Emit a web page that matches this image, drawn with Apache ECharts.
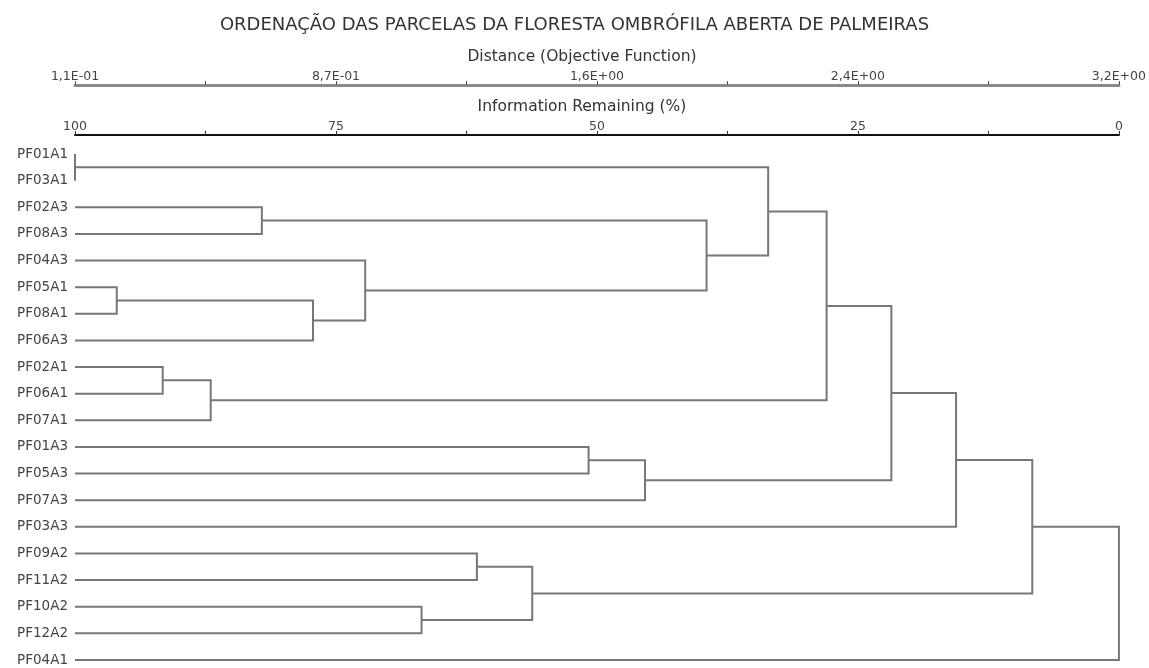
<!DOCTYPE html>
<html>
<head>
<meta charset="utf-8">
<script src="https://cdn.jsdelivr.net/npm/echarts@6/dist/echarts.min.js"></script>
<style>
html,body{margin:0;padding:0;background:#fff;}
#chart{width:1149px;height:668px;}
</style>
</head>
<body>
<div id="chart"></div>
<script>
// Leaf order (top to bottom)
const leaves = ['PF01A1','PF03A1','PF02A3','PF08A3','PF04A3','PF05A1','PF08A1','PF06A3',
  'PF02A1','PF06A1','PF07A1','PF01A3','PF05A3','PF07A3','PF03A3','PF09A2','PF11A2',
  'PF10A2','PF12A2','PF04A1'];
// Merge steps: child ids (leaf index, or 'm'+merge index) and fusion level (Information Remaining %)
const mergeLeft  = [0, 5, 8, 'm2', 2, 'm1', 4, 17, 15, 'm8', 11, 'm10', 'm4', 'm0', 'm13', 'm14', 'm15', 'm16', 'm17'];
const mergeRight = [1, 6, 9, 10, 3, 7, 'm5', 18, 16, 'm7', 12, 13, 'm6', 'm12', 'm3', 'm11', 14, 'm9', 19];
const mergeInfo  = [100, 96.0, 91.6, 87.0, 82.1, 77.2, 72.2, 66.8, 61.5, 56.2, 50.8, 45.4, 39.5, 33.6, 28.0, 21.8, 15.6, 8.3, 0];
// Axis tick labels
const infoTicks = [100, 75, 50, 25, 0];
const distTickLabels = ['1,1E-01', '8,7E-01', '1,6E+00', '2,4E+00', '3,2E+00'];

// build node geometry
const nodePos = {};
function node(id) {
  if (typeof id === 'number') return { h: 100, y: id };
  return nodePos[id];
}
const segData = [];
for (let i = 0; i < mergeInfo.length; i++) {
  const a = node(mergeLeft[i]), b = node(mergeRight[i]);
  const h = mergeInfo[i];
  segData.push([a.h, a.y, b.h, b.y, h]);
  nodePos['m' + i] = { h: h, y: (a.y + b.y) / 2 };
}

const chart = echarts.init(document.getElementById('chart'));
const tickFont = { fontFamily: 'DejaVu Sans', fontSize: 12.5, color: '#444' };
const nameFont = { fontFamily: 'DejaVu Sans', fontSize: 15.5, color: '#333', padding: [0, 30, 0, 0] };
chart.setOption({
  animation: false,
  backgroundColor: '#fff',
  title: {
    text: 'ORDENAÇÃO DAS PARCELAS DA FLORESTA OMBRÓFILA ABERTA DE PALMEIRAS',
    left: 'center', top: 11,
    textStyle: { fontFamily: 'DejaVu Sans', fontSize: 18, fontWeight: 'normal', color: '#333' }
  },
  grid: { left: 75, right: 30, top: 154, bottom: 8, containLabel: false },
  xAxis: [
    {
      type: 'value', min: 0, max: 100, interval: 12.5, inverse: true,
      position: 'top', offset: 19,
      name: 'Information Remaining (%)', nameLocation: 'middle', nameGap: 13,
      nameTextStyle: nameFont,
      axisLine: { show: true, onZero: false, lineStyle: { color: '#111', width: 2 } },
      axisTick: { show: true, length: 4, lineStyle: { color: '#333', width: 1 } },
      axisLabel: {
        ...tickFont, margin: 2, showMinLabel: true, showMaxLabel: true,
        formatter: v => (infoTicks.indexOf(v) >= 0 ? String(v) : '')
      },
      splitLine: { show: false }
    },
    {
      type: 'value', min: 0, max: 100, interval: 12.5, inverse: true,
      position: 'top', offset: 69,
      name: 'Distance (Objective Function)', nameLocation: 'middle', nameGap: 19,
      nameTextStyle: nameFont,
      axisLine: { show: true, onZero: false, lineStyle: { color: '#8a8a8a', width: 3 } },
      axisTick: { show: true, length: 4, lineStyle: { color: '#555', width: 1 } },
      axisLabel: {
        ...tickFont, margin: 2, showMinLabel: true, showMaxLabel: true,
        formatter: v => { const k = infoTicks.indexOf(v); return k >= 0 ? distTickLabels[k] : ''; }
      },
      splitLine: { show: false }
    }
  ],
  yAxis: [
    {
      type: 'category', data: leaves, inverse: true, boundaryGap: false,
      axisLine: { show: false }, axisTick: { show: false }, splitLine: { show: false },
      axisLabel: { fontFamily: 'DejaVu Sans', fontSize: 13.5, color: '#444', margin: 7, interval: 0 }
    },
    {
      type: 'value', min: 0, max: leaves.length - 1, inverse: true, show: false
    }
  ],
  series: [{
    type: 'custom',
    xAxisIndex: 0, yAxisIndex: 1,
    clip: false,
    data: segData,
    renderItem: function (params, api) {
      const p1 = api.coord([api.value(0), api.value(1)]);
      const p2 = api.coord([api.value(4), api.value(1)]);
      const p3 = api.coord([api.value(4), api.value(3)]);
      const p4 = api.coord([api.value(2), api.value(3)]);
      return {
        type: 'polyline',
        shape: { points: [p1, p2, p3, p4] },
        style: { stroke: '#777', lineWidth: 2, fill: null }
      };
    }
  }]
});
</script>
</body>
</html>
